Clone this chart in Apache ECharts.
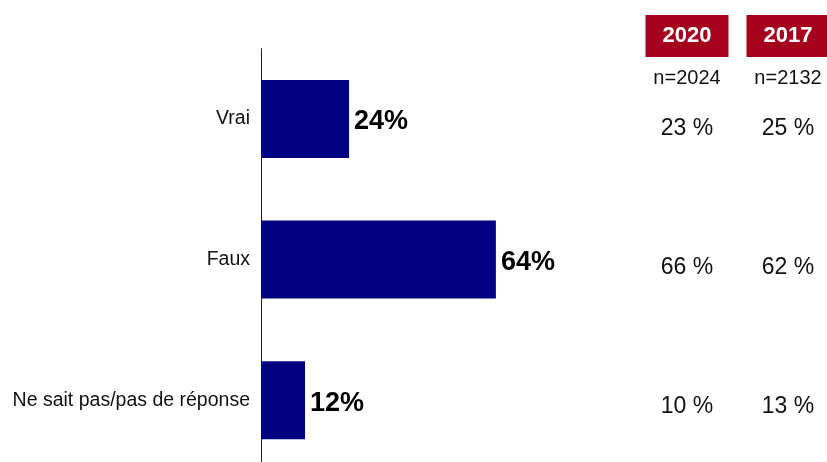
<!DOCTYPE html>
<html><head><meta charset="utf-8">
<script src="https://cdn.jsdelivr.net/npm/echarts@6/dist/echarts.min.js"></script>
<style>html,body{margin:0;padding:0;background:#fff}#c{width:827px;height:462px}</style>
</head><body><div id="c"></div>
<script>
var categories = ['Vrai', 'Faux', 'Ne sait pas/pas de réponse'];
var current = [24, 64, 12];
var years = ['2020', '2017'];
var sampleSizes = ['n=2024', 'n=2132'];
var values2020 = [23, 66, 10];
var values2017 = [25, 62, 13];

var yearValues = [values2020, values2017];
var scatterData = [];
yearValues.forEach(function (arr, j) {
  arr.forEach(function (v, i) { scatterData.push([j, i, v]); });
});

var FONT = '"Liberation Sans", Arial, sans-serif';
var chart = echarts.init(document.getElementById('c'));
chart.setOption({
  animation: false,
  grid: [
    { left: 261, top: 48.6, width: 367, height: 422, outerBoundsMode: 'none', containLabel: false },
    { left: 636.5, top: 58.5, width: 202, height: 418, outerBoundsMode: 'none', containLabel: false }
  ],
  xAxis: [
    { gridIndex: 0, type: 'value', min: 0, max: 100, show: false },
    {
      gridIndex: 1, type: 'category', data: years, position: 'top',
      axisLine: { show: false }, axisTick: { show: false }, splitLine: { show: false },
      axisLabel: {
        interval: 0, margin: 43.5, verticalAlign: 'top',
        formatter: function (val, idx) { return '{hd|' + val + '}\n{n|' + sampleSizes[idx] + '}'; },
        rich: {
          hd: { backgroundColor: '#A6001F', color: '#fff', width: 83, height: 42, lineHeight: 42,
                align: 'center', fontSize: 22, fontWeight: 'bold', fontFamily: FONT },
          n: { color: '#111', fontSize: 20, lineHeight: 42, align: 'center', fontFamily: FONT }
        }
      }
    }
  ],
  yAxis: [
    {
      gridIndex: 0, type: 'category', data: categories, inverse: true,
      axisLine: { show: true, lineStyle: { color: '#222', width: 1 } },
      axisTick: { show: false },
      axisLabel: { margin: 11, color: '#111', fontSize: 19.5, fontFamily: FONT }
    },
    { gridIndex: 1, type: 'category', data: categories, inverse: true, show: false }
  ],
  series: [
    {
      type: 'bar', xAxisIndex: 0, yAxisIndex: 0, data: current, barWidth: 78,
      itemStyle: { color: '#000080' },
      label: { show: true, position: 'right', distance: 5, offset: [0, 3], formatter: '{c}%',
               color: '#000', fontSize: 27, fontWeight: 'bold', fontFamily: FONT }
    },
    {
      type: 'scatter', xAxisIndex: 1, yAxisIndex: 1, data: scatterData, symbolSize: 0,
      itemStyle: { color: '#fff', opacity: 1 },
      label: { show: true, position: 'inside', opacity: 1,
               formatter: function (p) { return p.value[2] + ' %'; },
               color: '#111', fontSize: 23, fontFamily: FONT }
    }
  ]
});
</script></body></html>
